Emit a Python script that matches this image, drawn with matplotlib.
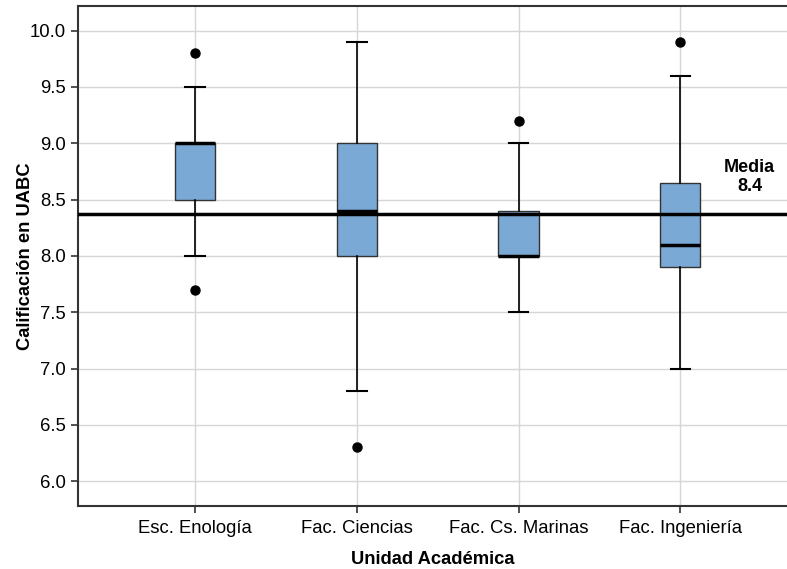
import matplotlib.pyplot as plt
import numpy as np

plt.rcParams['font.family'] = ['Liberation Sans', 'DejaVu Sans']

# data
unidades = ['Esc. Enología', 'Fac. Ciencias', 'Fac. Cs. Marinas', 'Fac. Ingeniería']
whislo = [8.0, 6.8, 7.5, 7.0]
q1 = [8.5, 8.0, 8.0, 7.9]
med = [9.0, 8.4, 8.0, 8.1]
q3 = [9.0, 9.0, 8.4, 8.65]
whishi = [9.5, 9.9, 9.0, 9.6]
fliers = [[9.8, 7.7], [6.3], [9.2], [9.9]]
media = 8.37

stats = []
for i in range(len(unidades)):
    stats.append(dict(label=unidades[i], whislo=whislo[i], q1=q1[i], med=med[i],
                      q3=q3[i], whishi=whishi[i], fliers=fliers[i]))

fig = plt.figure(figsize=(7.87, 5.69), dpi=100)
ax = fig.add_axes([0.0991, 0.1107, 0.9009, 0.879])

pos = np.arange(len(unidades))
ax.bxp(stats, positions=pos, widths=0.25, patch_artist=True, zorder=3,
       boxprops=dict(facecolor='#7aa9d6', edgecolor='#333333', linewidth=1),
       medianprops=dict(color='black', linewidth=2.5),
       whiskerprops=dict(color='black', linewidth=1.2),
       capprops=dict(color='black', linewidth=1.5),
       capwidths=0.12,
       flierprops=dict(marker='o', markerfacecolor='black', markeredgecolor='black',
                       markersize=6.5))

ax.axhline(media, color='black', linewidth=2.5, zorder=4)
ax.text(3.43, 8.70, 'Media\n' + f'{media:.1f}', ha='center', va='center',
        fontsize=13, fontweight='bold', linespacing=1.1)

ax.set_xlim(-0.724, 3.66)
ax.set_ylim(5.78, 10.22)
ax.set_yticks(np.arange(6.0, 10.01, 0.5))
ax.set_yticklabels([f'{v:.1f}' for v in np.arange(6.0, 10.01, 0.5)])
ax.set_xticks(pos)
ax.set_xticklabels(unidades)
ax.tick_params(labelsize=13.3, direction='out', length=5, color='#333333', width=1.2)
ax.tick_params(axis='x', pad=5)

ax.grid(True, color='#d6d6d6', linewidth=1, zorder=0)
ax.set_axisbelow(True)

for s in ['left', 'bottom', 'top']:
    ax.spines[s].set_color('#333333')
    ax.spines[s].set_linewidth(1.5)
ax.spines['right'].set_visible(False)

ax.set_ylabel('Calificación en UABC', fontsize=13.2, fontweight='bold', va='center')
ax.yaxis.set_label_coords(-0.074, 0.5)
ax.set_xlabel('Unidad Académica', fontsize=13.2, fontweight='bold', labelpad=10)

plt.savefig('out.png', dpi=100)
